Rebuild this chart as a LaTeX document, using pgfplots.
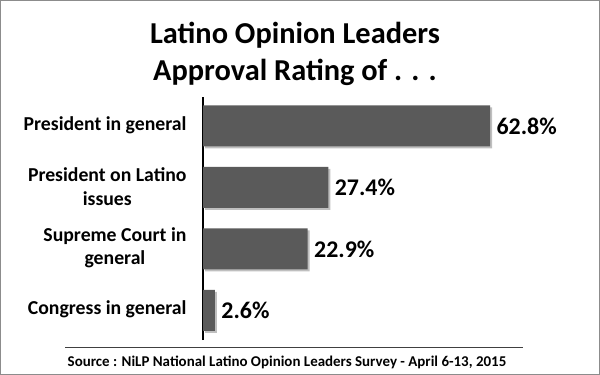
\documentclass[border=0pt]{standalone}
\usepackage{pgfplots}
\pgfplotsset{compat=1.18}
\usepackage{fontspec}
\setmainfont{Carlito}
\usetikzlibrary{shadows}
\definecolor{barc}{HTML}{5A5A5A}
\begin{document}
\begin{tikzpicture}
\draw[black!45, line width=1bp] (0.5bp,0.5bp) rectangle (599.5bp,374.5bp);
\useasboundingbox (0bp,0bp) rectangle (600bp,375bp);
\node[font=\bfseries\fontsize{30.5}{36}\selectfont] at (295bp,340bp) {Latino Opinion Leaders};
\node[font=\bfseries\fontsize{30.5}{36}\selectfont] at (295bp,303bp) {Approval Rating of . . .};
\begin{axis}[
  at={(203bp,35bp)}, anchor=south west,
  scale only axis, width=320bp, height=243bp,
  xbar, bar width=41bp,
  xmin=0, xmax=70,
  ymin=-0.48, ymax=3.47,
  axis x line=none,
  axis y line*=left,
  y axis line style={line width=2.6bp, -},
  ytick={0,1,2,3},
  yticklabels={Congress in general, Supreme Court in\\general, President on Latino\\issues, President in general},
  yticklabel style={align=center, font=\bfseries\fontsize{19.8}{23.5}\selectfont, xshift=-13bp, yshift=1bp},
  major tick length=0pt,
  /pgf/number format/assume math mode=true,
  nodes near coords={\pgfmathprintnumber[fixed,fixed zerofill,precision=1]{\pgfplotspointmeta}\%},
  every node near coord/.append style={font=\bfseries\fontsize{24}{28}\selectfont, anchor=west, xshift=3bp, black},
  clip=false,
]
\addplot[fill=barc, draw=none, drop shadow={shadow xshift=2bp, shadow yshift=-2bp, fill=black!25, opacity=1}] coordinates {(2.6,0) (22.9,1) (27.4,2) (62.8,3)};
\end{axis}
\draw[black!75, line width=1bp] (65bp,27bp) -- (523bp,27bp);
\node[font=\bfseries\fontsize{15}{18}\selectfont] at (287bp,13bp) {Source : NiLP National Latino Opinion Leaders Survey - April 6-13, 2015};
\end{tikzpicture}
\end{document}
